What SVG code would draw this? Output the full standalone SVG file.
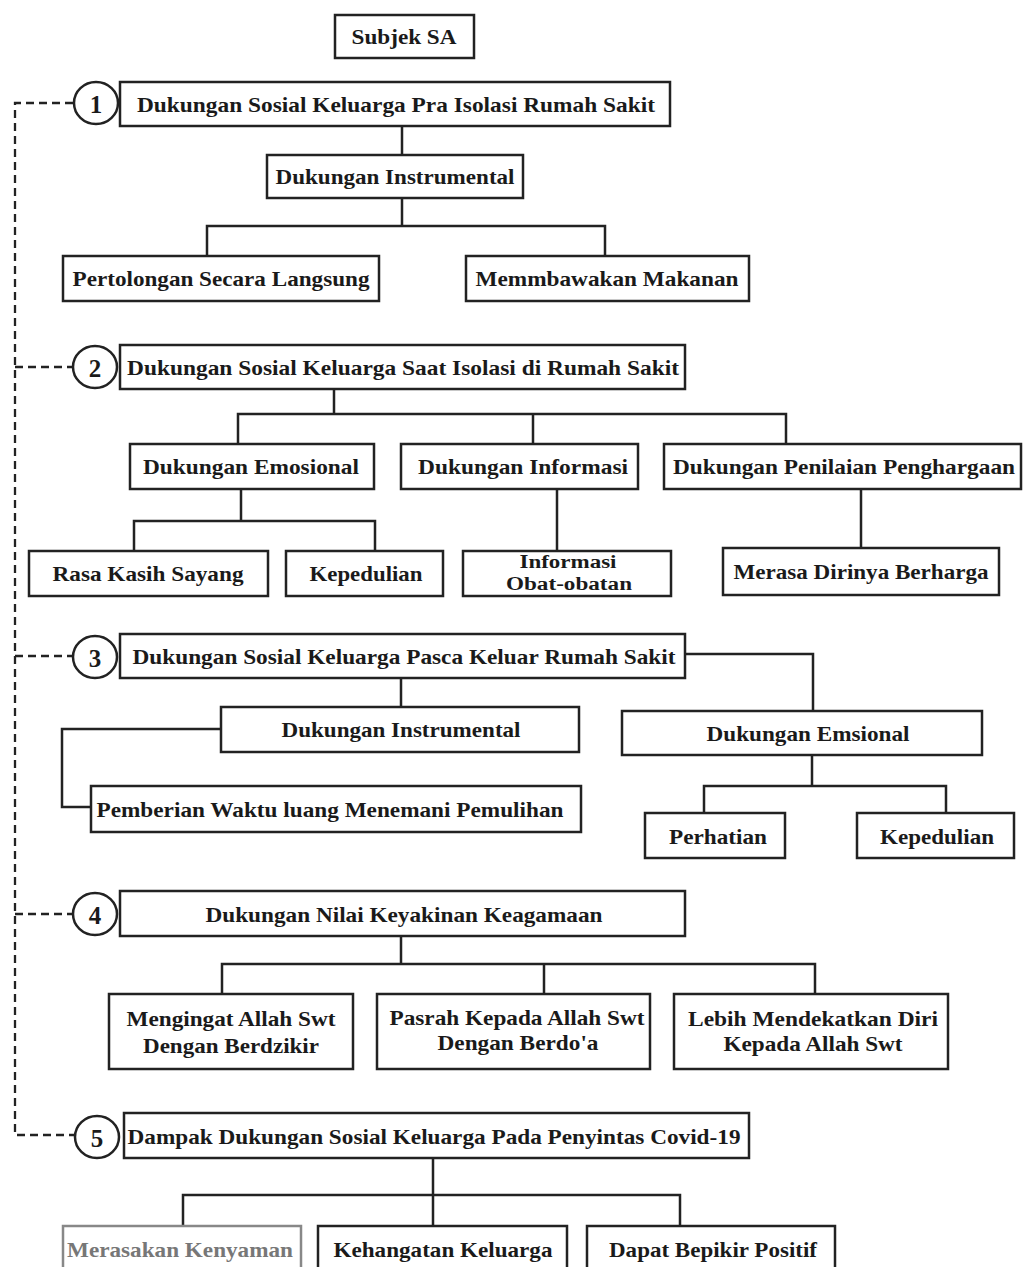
<svg xmlns="http://www.w3.org/2000/svg" width="1024" height="1267" viewBox="0 0 1024 1267">
<style>
.box{fill:#fff;stroke:#222;stroke-width:2.5}
.num{fill:#fff;stroke:#222;stroke-width:2.5}
.t{font-family:"Liberation Serif","Times New Roman",serif;font-weight:bold;font-size:22px;fill:#1a1a1a;text-anchor:middle;dominant-baseline:central}
.s{font-size:18px}
.n{font-family:"Liberation Serif","Times New Roman",serif;font-weight:bold;font-size:25px;fill:#1a1a1a;text-anchor:middle;dominant-baseline:central}
.line{fill:none;stroke:#222;stroke-width:2.5}
.dash{fill:none;stroke:#222;stroke-width:2.3;stroke-dasharray:8,5}
.gray{stroke:#888}
.gt{fill:#777}
</style>
<rect width="1024" height="1267" fill="#fff"/>
<g id="connectors">
<path class="dash" d="M73,103 H15 V1135 H75"/>
<path class="dash" d="M15,367 H73"/>
<path class="dash" d="M15,656 H73"/>
<path class="dash" d="M15,914 H73"/>
<path class="line" d="M402,126 V155 M402,198 V226 M207,256 V226 H605 V256"/>
<path class="line" d="M334,389 V414 M238,444 V414 H786 V444 M533,414 V444"/>
<path class="line" d="M241,489 V521 M134,551 V521 H375 V551"/>
<path class="line" d="M557,489 V551 M861,489 V548"/>
<path class="line" d="M685,654 H813 V711 M401,678 V707 M221,729 H62 V807 H91"/>
<path class="line" d="M812,755 V786 M704,813 V786 H946 V813"/>
<path class="line" d="M401,936 V964 M222,994 V964 H815 V994 M544,964 V994"/>
<path class="line" d="M433,1158 V1195 M183,1226 V1195 H680 V1226 M433,1195 V1226"/>
</g>
<g id="subjek"><rect class="box" x="335" y="15" width="139" height="43"/><text class="t" x="404" y="36" textLength="105" lengthAdjust="spacingAndGlyphs">Subjek SA</text></g>

<g id="c1"><ellipse class="num" cx="96" cy="103" rx="22" ry="21"/><text class="n" x="96" y="104">1</text></g>
<g id="h1"><rect class="box" x="120" y="82" width="550" height="44"/><text class="t" x="396" y="104" textLength="518" lengthAdjust="spacingAndGlyphs">Dukungan Sosial Keluarga Pra Isolasi Rumah Sakit</text></g>
<g id="s1-instr"><rect class="box" x="267" y="155" width="256" height="43"/><text class="t" x="395" y="176" textLength="239" lengthAdjust="spacingAndGlyphs">Dukungan Instrumental</text></g>
<g id="s1-pert"><rect class="box" x="63" y="256" width="316" height="45"/><text class="t" x="221" y="278" textLength="297" lengthAdjust="spacingAndGlyphs">Pertolongan Secara Langsung</text></g>
<g id="s1-mem"><rect class="box" x="466" y="256" width="283" height="45"/><text class="t" x="607" y="278" textLength="263" lengthAdjust="spacingAndGlyphs">Memmbawakan Makanan</text></g>

<g id="c2"><ellipse class="num" cx="95" cy="367" rx="22" ry="21"/><text class="n" x="95" y="368">2</text></g>
<g id="h2"><rect class="box" x="120" y="345" width="565" height="44"/><text class="t" x="403" y="367" textLength="552" lengthAdjust="spacingAndGlyphs">Dukungan Sosial Keluarga Saat Isolasi di Rumah Sakit</text></g>
<g id="s2-emo"><rect class="box" x="130" y="444" width="244" height="45"/><text class="t" x="251" y="466" textLength="216" lengthAdjust="spacingAndGlyphs">Dukungan Emosional</text></g>
<g id="s2-inf"><rect class="box" x="401" y="444" width="237" height="45"/><text class="t" x="523" y="466" textLength="210" lengthAdjust="spacingAndGlyphs">Dukungan Informasi</text></g>
<g id="s2-pen"><rect class="box" x="664" y="444" width="357" height="45"/><text class="t" x="844" y="466" textLength="342" lengthAdjust="spacingAndGlyphs">Dukungan Penilaian Penghargaan</text></g>
<g id="s2-rasa"><rect class="box" x="29" y="551" width="239" height="45"/><text class="t" x="148" y="573" textLength="191" lengthAdjust="spacingAndGlyphs">Rasa Kasih Sayang</text></g>
<g id="s2-kep"><rect class="box" x="286" y="551" width="157" height="45"/><text class="t" x="366" y="573" textLength="113" lengthAdjust="spacingAndGlyphs">Kepedulian</text></g>
<g id="s2-obat"><rect class="box" x="463" y="551" width="208" height="45"/><text class="t s" x="568" y="562" textLength="97" lengthAdjust="spacingAndGlyphs">Informasi</text><text class="t s" x="569" y="584" textLength="126" lengthAdjust="spacingAndGlyphs">Obat-obatan</text></g>
<g id="s2-mer"><rect class="box" x="723" y="548" width="276" height="47"/><text class="t" x="861" y="571" textLength="255" lengthAdjust="spacingAndGlyphs">Merasa Dirinya Berharga</text></g>

<g id="c3"><ellipse class="num" cx="95" cy="657" rx="22" ry="21"/><text class="n" x="95" y="658">3</text></g>
<g id="h3"><rect class="box" x="120" y="634" width="565" height="44"/><text class="t" x="404" y="656" textLength="543" lengthAdjust="spacingAndGlyphs">Dukungan Sosial Keluarga Pasca Keluar Rumah Sakit</text></g>
<g id="s3-instr"><rect class="box" x="221" y="707" width="358" height="45"/><text class="t" x="401" y="729" textLength="239" lengthAdjust="spacingAndGlyphs">Dukungan Instrumental</text></g>
<g id="s3-pemb"><rect class="box" x="91" y="786" width="490" height="46"/><text class="t" x="330" y="809" textLength="467" lengthAdjust="spacingAndGlyphs">Pemberian Waktu luang Menemani Pemulihan</text></g>
<g id="s3-emo"><rect class="box" x="622" y="711" width="360" height="44"/><text class="t" x="808" y="733" textLength="203" lengthAdjust="spacingAndGlyphs">Dukungan Emsional</text></g>
<g id="s3-per"><rect class="box" x="645" y="813" width="140" height="45"/><text class="t" x="718" y="836" textLength="98" lengthAdjust="spacingAndGlyphs">Perhatian</text></g>
<g id="s3-kep"><rect class="box" x="857" y="813" width="157" height="45"/><text class="t" x="937" y="836" textLength="114" lengthAdjust="spacingAndGlyphs">Kepedulian</text></g>

<g id="c4"><ellipse class="num" cx="95" cy="914" rx="22" ry="21"/><text class="n" x="95" y="915">4</text></g>
<g id="h4"><rect class="box" x="120" y="891" width="565" height="45"/><text class="t" x="404" y="914" textLength="397" lengthAdjust="spacingAndGlyphs">Dukungan Nilai Keyakinan Keagamaan</text></g>
<g id="s4-ing"><rect class="box" x="109" y="994" width="244" height="75"/><text class="t" x="231" y="1018" textLength="209" lengthAdjust="spacingAndGlyphs">Mengingat Allah Swt</text><text class="t" x="231" y="1045" textLength="176" lengthAdjust="spacingAndGlyphs">Dengan Berdzikir</text></g>
<g id="s4-pas"><rect class="box" x="377" y="994" width="273" height="75"/><text class="t" x="517" y="1017" textLength="255" lengthAdjust="spacingAndGlyphs">Pasrah Kepada Allah Swt</text><text class="t" x="518" y="1042" textLength="161" lengthAdjust="spacingAndGlyphs">Dengan Berdo'a</text></g>
<g id="s4-leb"><rect class="box" x="674" y="994" width="274" height="75"/><text class="t" x="813" y="1018" textLength="250" lengthAdjust="spacingAndGlyphs">Lebih Mendekatkan Diri</text><text class="t" x="813" y="1043" textLength="179" lengthAdjust="spacingAndGlyphs">Kepada Allah Swt</text></g>

<g id="c5"><ellipse class="num" cx="97" cy="1137" rx="22" ry="21"/><text class="n" x="97" y="1138">5</text></g>
<g id="h5"><rect class="box" x="124" y="1113" width="625" height="45"/><text class="t" x="434" y="1136" textLength="613" lengthAdjust="spacingAndGlyphs">Dampak Dukungan Sosial Keluarga Pada Penyintas Covid-19</text></g>
<g id="s5-mer"><rect class="box gray" x="63" y="1226" width="238" height="50"/><text class="t gt" x="180" y="1249" textLength="226" lengthAdjust="spacingAndGlyphs">Merasakan Kenyaman</text></g>
<g id="s5-keh"><rect class="box" x="318" y="1226" width="249" height="50"/><text class="t" x="443" y="1249" textLength="219" lengthAdjust="spacingAndGlyphs">Kehangatan Keluarga</text></g>
<g id="s5-dap"><rect class="box" x="587" y="1226" width="248" height="50"/><text class="t" x="713" y="1249" textLength="208" lengthAdjust="spacingAndGlyphs">Dapat Bepikir Positif</text></g>
</svg>
